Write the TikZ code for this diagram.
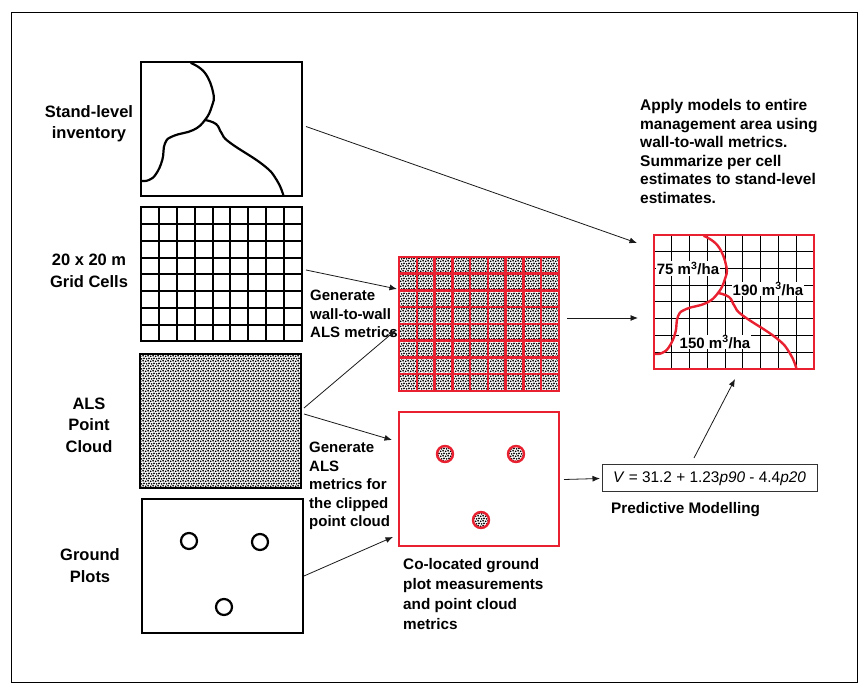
\documentclass[tikz,border=0pt]{standalone}
\usepackage{fontspec}
\setmainfont{Liberation Sans}
\usetikzlibrary{arrows.meta, calc, patterns}

% Tile used for the laser points
\pgfdeclarepatternformonly{alsdots}{\pgfqpoint{-1pt}{-1pt}}{\pgfqpoint{6pt}{6pt}}{\pgfqpoint{5pt}{5pt}}{
  \pgfpathcircle{\pgfqpoint{0.7pt}{0.7pt}}{0.95pt}
  \pgfpathcircle{\pgfqpoint{3.1pt}{1.2pt}}{0.95pt}
  \pgfpathcircle{\pgfqpoint{1.6pt}{3.1pt}}{0.95pt}
  \pgfpathcircle{\pgfqpoint{4.0pt}{3.6pt}}{0.95pt}
  \pgfusepath{fill}
}

\tikzset{
  panel/.style={draw=black,line width=2pt,minimum width=161pt,minimum height=134pt,
    outer sep=0pt,inner sep=0pt},
  redpanel/.style={panel,draw=figred,line width=2.5pt,minimum width=160pt},
  plotring/.style={draw=black,line width=2.2pt,circle,minimum size=16pt,inner sep=0pt,outer sep=0pt},
  cloudring/.style={draw=figred,line width=2.4pt,circle,minimum size=16pt,inner sep=0pt,outer sep=0pt,
    pattern=alsdots},
  flow/.style={-{Latex[length=7.5pt,width=6pt]},line width=.8pt,black!90},
  steplabel/.style={font=\bfseries\fontsize{16.5}{21.5}\selectfont,align=center,inner sep=0pt},
  note/.style={font=\bfseries\fontsize{15}{18.4}\selectfont,align=left,anchor=west,inner sep=0pt},
  volume/.style={font=\bfseries\fontsize{15}{16}\selectfont,fill=white,inner sep=1pt},
}
\definecolor{figred}{RGB}{232,32,48}

% Grid of 9 x 8 cells inside a named panel
\newcommand{\cellgrid}[2]{
  \foreach \i in {1,...,8}
    \draw[#2] ($(#1.south west)!\i/9!(#1.south east)$) -- ($(#1.north west)!\i/9!(#1.north east)$);
  \foreach \j in {1,...,7}
    \draw[#2] ($(#1.north west)!\j/8!(#1.south west)$) -- ($(#1.north east)!\j/8!(#1.south east)$);
}
% Stand boundaries, measured from the corner of a panel
\newcommand{\standlines}[2]{
  \begin{scope}[shift={(#1.north west)}]
    \draw[#2,line cap=round] plot[smooth,tension=.75] coordinates {(50,1) (64,11) (72.3,31.3) (70.7,44.7)
      (64,58) (52.3,68) (32.3,74) (24,81.3) (21.3,98) (15,112) (8,118) (1,119)};
    \draw[#2,line cap=round] plot[smooth,tension=.75] coordinates {(64,58) (75,62) (80.7,71.3) (89,80.7)
      (122.3,103) (135.7,118) (142.3,133)};
  \end{scope}
}

\begin{document}
\begin{tikzpicture}[x=1pt,y=-1pt]
\useasboundingbox (0,0) rectangle (868,692);
\draw[line width=.8pt] (11,12) rectangle (857,682);

% Input panels, left column
\node [panel,anchor=north west] (stand) at (141,62) {};
\node [panel,anchor=north west] (grid) at (141,207.5) {};
\node [panel,anchor=north west,pattern=alsdots] (cloud) at (140,354) {};
\node [panel,anchor=north west] (plots) at (142,499) {};
\standlines{stand}{line width=2.2pt}
\cellgrid{grid}{line width=2pt}

% Ground plots
\node [plotring] (plota) at (189,541) {};
\node [plotring] (plotb) at (260,542) {};
\node [plotring] (plotc) at (224,607) {};

% Wall-to-wall metrics
\node [redpanel,anchor=north west,pattern=alsdots] (metrics) at (399,257) {};
\cellgrid{metrics}{figred,line width=2.5pt}

% Plots with their clipped points
\node [redpanel,anchor=north west] (colocated) at (399,412) {};
\node [cloudring] (clipa) at (445,454) {};
\node [cloudring] (clipb) at (516,454) {};
\node [cloudring] (clipc) at (481,520) {};

% Result panel: thin grid, then labels, then the red lines
\node [redpanel,anchor=north west] (result) at (654,235) {};
\cellgrid{result}{line width=1pt}
\node [volume] (lowvol) at (688,268.5) {75 m\textsuperscript{3}/ha};
\node [volume] (highvol) at (768,289) {190 m\textsuperscript{3}/ha};
\node [volume] (midvol) at (715,342) {150 m\textsuperscript{3}/ha};
\standlines{result}{figred,line width=2.4pt}
\node [redpanel,anchor=north west] (resultframe) at (654,235) {};

% Model
\node [draw=black!80,line width=1pt,minimum width=215pt,minimum height=27pt,inner sep=0pt,outer sep=0pt,
  anchor=north west,font=\fontsize{15.4}{16}\selectfont] (model) at (602,465)
  {\textit{V} = 31.2 + 1.23\textit{p90} - 4.4\textit{p20}\hspace{5pt}};

% Labels
\node [steplabel] (standtext) at (89,123.5) {Stand-level\\inventory};
\node [steplabel] (gridtext) at (89,271) {20 x 20 m\\Grid Cells};
\node [steplabel] (cloudtext) at (89,425) {ALS\\Point\\Cloud};
\node [steplabel] (plotstext) at (90,565.5) {Ground\\Plots};
\node [note] (walltext) at (310,314) {Generate\\wall-to-wall\\ALS metrics};
\node [note] (cliptext) at (309,486) {Generate\\ALS\\metrics for\\the clipped\\point cloud};
\node [note,font=\bfseries\fontsize{15.3}{20.2}\selectfont] (coloctext) at (403,594) {Co-located ground\\plot measurements\\and point cloud\\metrics};
\node [note,font=\bfseries\fontsize{15.5}{18.5}\selectfont] (applytext) at (640,151.5) {Apply models to entire\\management area using\\wall-to-wall metrics.\\Summarize per cell\\estimates to stand-level\\estimates.};
\node [note,font=\bfseries\fontsize{15.3}{18.4}\selectfont] (modeltext) at (611,510) {Predictive Modelling};

% Connectors
\draw[flow] ([xshift=4,yshift=2.5]stand.east) -- ([xshift=-17,yshift=-8]result.north west);
\draw[flow] ([xshift=4,yshift=4.5]grid.east) -- ([xshift=-2,yshift=-32]metrics.north west);
\draw[flow] ([xshift=3,yshift=13]cloud.east) -- ([xshift=-3,yshift=-6]metrics.west);
\draw[flow] ([xshift=3,yshift=7]cloud.east) -- ([xshift=-7,yshift=-28]colocated.north west);
\draw[flow] ([xshift=1,yshift=-10]plots.east) -- ([xshift=-6,yshift=9]colocated.south west);
\draw[flow] ([xshift=8,yshift=6]metrics.east) -- ([xshift=-16,yshift=-16]result.west);
\draw[flow] ([xshift=5,yshift=-.5]colocated.east) -- ([xshift=-2]model.west);
\draw[flow] ([xshift=-15.5,yshift=7]model.north) -- ([xshift=1,yshift=-10]result.south);
\end{tikzpicture}
\end{document}
